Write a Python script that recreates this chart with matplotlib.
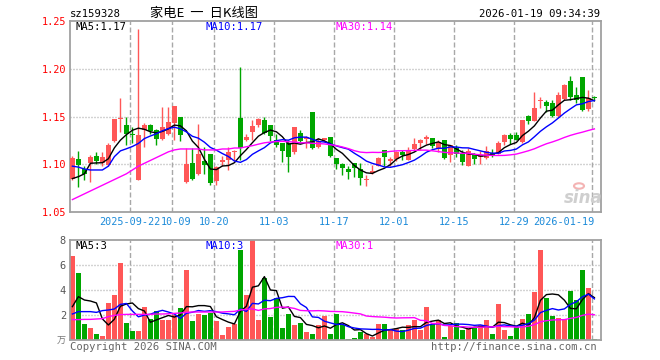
import matplotlib
matplotlib.use('Agg')
import matplotlib.pyplot as plt
import matplotlib.transforms as mtransforms
import numpy as np
import pandas as pd
from matplotlib.patches import Circle

# ---------------- data ----------------
dates = ['09-08','09-09','09-10','09-11','09-12','09-15','09-16','09-17','09-18','09-19',
         '09-22','09-23','09-24','09-25','09-26','09-29','09-30',
         '10-09','10-10','10-13','10-14','10-15','10-16','10-17','10-20','10-21','10-22',
         '10-23','10-24','10-27','10-28','10-29','10-30','10-31',
         '11-03','11-04','11-05','11-06','11-07','11-10','11-11','11-12','11-13','11-14',
         '11-17','11-18','11-19','11-20','11-21','11-24','11-25','11-26','11-27','11-28',
         '12-01','12-02','12-03','12-04','12-05','12-08','12-09','12-10','12-11','12-12',
         '12-15','12-16','12-17','12-18','12-19','12-22','12-23','12-24','12-25','12-26',
         '12-29','12-30','12-31',
         '01-05','01-06','01-07','01-08','01-09','01-12','01-13','01-14','01-15','01-16',
         '01-19']

opens = [1.085,1.105,1.095,1.101,1.109,1.101,1.099,1.124,1.147,1.141,
         1.132,1.084,1.136,1.141,1.136,1.126,1.132,1.143,1.149,1.081,
         1.101,1.090,1.103,1.111,1.082,1.102,1.104,1.113,1.148,1.125,
         1.134,1.141,1.146,1.141,1.125,1.122,1.122,1.113,1.133,1.126,
         1.155,1.118,1.125,1.129,1.107,1.100,1.095,1.101,1.095,1.083,
         1.091,1.098,1.115,1.103,1.105,1.113,1.104,1.116,1.122,1.126,
         1.128,1.116,1.125,1.110,1.117,1.111,1.098,1.111,1.108,1.107,
         1.112,1.111,1.123,1.131,1.131,1.123,1.151,1.145,1.166,1.165,
         1.164,1.151,1.168,1.187,1.172,1.191,1.158,1.170]
highs = [1.109,1.114,1.098,1.110,1.113,1.113,1.122,1.147,1.169,1.150,
         1.139,1.242,1.143,1.142,1.137,1.160,1.160,1.161,1.149,1.117,
         1.117,1.142,1.118,1.111,1.098,1.109,1.118,1.115,1.202,1.132,
         1.146,1.148,1.149,1.141,1.132,1.122,1.125,1.139,1.136,1.130,
         1.155,1.127,1.128,1.129,1.107,1.101,1.098,1.101,1.101,1.089,
         1.099,1.108,1.115,1.108,1.114,1.115,1.118,1.128,1.126,1.131,
         1.128,1.125,1.125,1.120,1.120,1.115,1.117,1.112,1.114,1.119,
         1.116,1.124,1.132,1.133,1.134,1.146,1.152,1.176,1.170,1.167,
         1.167,1.176,1.184,1.192,1.181,1.191,1.178,1.171]
lows = [1.084,1.076,1.084,1.081,1.100,1.098,1.098,1.123,1.134,1.120,
        1.122,1.084,1.118,1.132,1.120,1.125,1.131,1.125,1.124,1.080,
        1.084,1.089,1.090,1.078,1.078,1.098,1.094,1.103,1.104,1.124,
        1.125,1.139,1.132,1.124,1.118,1.102,1.092,1.111,1.122,1.117,
        1.116,1.117,1.123,1.108,1.095,1.089,1.085,1.087,1.078,1.077,
        1.090,1.098,1.098,1.098,1.103,1.104,1.104,1.114,1.115,1.121,
        1.117,1.113,1.106,1.102,1.108,1.099,1.098,1.100,1.100,1.106,
        1.108,1.111,1.120,1.121,1.125,1.122,1.142,1.145,1.159,1.155,
        1.150,1.150,1.167,1.167,1.164,1.156,1.156,1.167]
closes = [1.107,1.099,1.090,1.108,1.103,1.108,1.120,1.147,1.148,1.132,
          1.131,1.131,1.141,1.135,1.126,1.139,1.144,1.161,1.131,1.100,
          1.085,1.111,1.099,1.080,1.097,1.104,1.113,1.114,1.117,1.129,
          1.140,1.147,1.133,1.130,1.120,1.114,1.108,1.139,1.124,1.129,
          1.117,1.124,1.128,1.109,1.100,1.096,1.092,1.096,1.086,1.085,
          1.093,1.107,1.108,1.105,1.113,1.110,1.115,1.121,1.125,1.129,
          1.119,1.123,1.107,1.120,1.111,1.102,1.114,1.105,1.110,1.114,
          1.110,1.122,1.131,1.126,1.125,1.146,1.145,1.159,1.167,1.161,
          1.151,1.173,1.183,1.170,1.167,1.157,1.169,1.169]
volumes = [6.72,5.39,1.28,0.96,0.48,0.32,2.96,3.60,6.16,1.36,
           0.72,0.72,2.64,1.65,2.32,1.60,1.60,2.00,2.56,5.60,
           1.52,2.08,2.00,2.19,1.52,0.40,1.04,1.28,7.20,3.60,
           8.00,1.60,4.96,1.84,3.36,0.96,2.08,1.20,1.36,0.64,
           0.48,1.20,1.92,0.48,2.08,1.20,0.08,0.16,0.64,0.48,
           0.24,1.28,1.28,0.88,0.88,0.80,1.20,1.60,0.83,2.64,
           1.28,1.60,0.24,1.12,1.36,0.80,0.88,0.96,1.20,1.60,
           0.48,2.88,0.80,0.32,1.04,1.68,2.08,3.84,7.20,3.36,
           1.92,1.76,1.68,3.92,3.20,5.60,4.16,0.08]

# moving-average values before the window is full
ma5_head = [1.085, 1.087, 1.090, 1.101]
ma10_head = [1.098, 1.097, 1.095, 1.094, 1.094, 1.094, 1.098, 1.108, 1.114]
ma30_head = [1.063, 1.066, 1.069, 1.072, 1.075, 1.078, 1.081, 1.084, 1.087, 1.090,
             1.094, 1.098, 1.101, 1.104, 1.107, 1.110, 1.113, 1.115, 1.116, 1.116,
             1.116, 1.116, 1.115, 1.115, 1.115, 1.116, 1.116, 1.117, 1.117]
vma5_head = [2.67, 3.47, 3.20, 3.12]
vma10_head = [2.08, 2.27, 2.27, 2.27, 2.21, 2.35, 2.40, 2.48, 2.85]
vma30_head = [1.63, 1.63, 1.65, 1.65, 1.68, 1.71, 1.87, 1.97, 2.03, 2.05,
              2.05, 2.05, 2.05, 2.05, 2.08, 2.08, 2.10, 2.13, 2.16, 2.21,
              2.24, 2.24, 2.24, 2.24, 2.24, 2.24, 2.27, 2.29, 2.40]

tick_dates = ['09-22', '10-09', '10-20', '11-03', '11-17', '12-01', '12-15', '12-29', '01-19']
tick_labels = ['2025-09-22', '10-09', '10-20', '11-03', '11-17', '12-01', '12-15', '12-29', '2026-01-19']
price_ticks = [1.05, 1.10, 1.15, 1.20, 1.25]
vol_ticks = [2, 4, 6, 8]

code_label = 'sz159328'
title = '家电E  一  日K线图'
stamp = '2026-01-19 09:34:39'
ma_labels = ['MA5:1.17', 'MA10:1.17', 'MA30:1.14']
vma_labels = ['MA5:3', 'MA10:3', 'MA30:1']

# ---------------- helpers ----------------
def moving(values, n, head):
    s = pd.Series(values).rolling(n).mean().to_numpy()
    s[:len(head)] = head
    return s

W, H = 660, 360
MONO = 'DejaVu Sans Mono'
RED = '#ff5757'
GREEN = '#00a600'
GRID = '#a8a8a8'
BLUE_TXT = '#1b8ad9'

fig = plt.figure(figsize=(W / 100, H / 100), dpi=100)
fig.patch.set_facecolor('white')

def rect(l, t, r, b):
    return [l / W, 1 - b / H, (r - l) / W, (b - t) / H]

def ptext(x, y, s, **kw):
    kw.setdefault('va', 'center')
    fig.text(x / W, 1 - y / H, s, **kw)

ax = fig.add_axes(rect(70, 21, 601, 212))
axv = fig.add_axes(rect(70, 240, 601, 340))

n = len(closes)
x = np.arange(n)
o = np.array(opens); c = np.array(closes); h = np.array(highs); l = np.array(lows)
v = np.array(volumes)
up = c >= o
cols = np.where(up, RED, GREEN)

xlim = (-0.4, 88.1)
tick_idx = np.array([dates.index(d) for d in tick_dates]) - 0.35

for a in (ax, axv):
    a.set_xlim(*xlim)
    for sp in a.spines.values():
        sp.set_color('#a0a0a0')
        sp.set_linewidth(1.3)
    for t in tick_idx:
        a.axvline(t, color=GRID, lw=1.0, ls=(0, (3.6, 1.8)), zorder=0)

# --- price panel ---
ax.set_ylim(1.05, 1.25)
for yv in price_ticks[1:-1]:
    ax.axhline(yv, color=GRID, lw=1.0, ls=(0, (0.72, 1.44)), zorder=0)

ax.vlines(x, l, h, colors=cols, lw=1.0, zorder=2)
body_lo = np.minimum(o, c)
body_h = np.maximum(np.abs(c - o), 0.0005)
ax.bar(x, body_h, bottom=body_lo, width=0.82, color=cols, linewidth=0, zorder=3)

ma5 = moving(closes, 5, ma5_head)
ma10 = moving(closes, 10, ma10_head)
ma30 = moving(closes, 30, ma30_head)
ax.plot(x, ma5, color='black', lw=1.0, zorder=4)
ax.plot(x, ma10, color='#0000ff', lw=1.0, zorder=4)
ax.plot(x, ma30, color='#ff00ff', lw=1.0, zorder=4)

ax.set_yticks(price_ticks)
ax.set_yticklabels(['%.2f' % t for t in price_ticks], fontfamily=MONO, fontsize=7.4, color='#ff0000')
ax.tick_params(axis='y', length=0, pad=3)
ax.set_xticks([])

# date labels below the price panel (x in data units, y in axes units)
blend = mtransforms.blended_transform_factory(ax.transData, ax.transAxes)
label_y = -10 / 191
shifts = [0.0, 0.7, 0.0, 0.0, 0.0, 0.0, 0.0, 0.0, 0.4]
for k, (t, lab) in enumerate(zip(tick_idx, tick_labels)):
    ha = 'right' if k == len(tick_labels) - 1 else 'center'
    ax.text(t + shifts[k], label_y, lab, transform=blend, ha=ha, va='center',
            fontfamily=MONO, fontsize=7.3, color=BLUE_TXT, clip_on=False)

# --- volume panel ---
axv.set_ylim(0, 8)
for yv in vol_ticks[:-1]:
    axv.axhline(yv, color=GRID, lw=1.0, ls=(0, (0.72, 1.44)), zorder=0)
axv.bar(x, v, width=0.82, color=cols, linewidth=0, zorder=2)
vma5 = moving(volumes, 5, vma5_head)
vma10 = moving(volumes, 10, vma10_head)
vma30 = moving(volumes, 30, vma30_head)
axv.plot(x, vma5, color='black', lw=1.0, zorder=4)
axv.plot(x, vma10, color='#0000ff', lw=1.0, zorder=4)
axv.plot(x, vma30, color='#ff00ff', lw=1.0, zorder=4)
axv.set_yticks(vol_ticks)
axv.set_yticklabels([str(t) for t in vol_ticks], fontfamily=MONO, fontsize=7.4, color='#555555')
axv.tick_params(axis='y', length=0, pad=3)
axv.set_xticks([])

# --- texts ---
ptext(70, 14, code_label, ha='left', fontfamily=MONO, fontsize=7.6, color='black')
ptext(204, 13, title, ha='center', family=['Noto Sans CJK SC', 'DejaVu Sans'], fontsize=9.5, color='black')
ptext(600, 14, stamp, ha='right', fontfamily=MONO, fontsize=7.6, color='black')

ptext(75, 27, ma_labels[0], ha='left', fontfamily=MONO, fontsize=7.6, color='black')
ptext(206, 27, ma_labels[1], ha='left', fontfamily=MONO, fontsize=7.6, color='#0000ff')
ptext(336, 27, ma_labels[2], ha='left', fontfamily=MONO, fontsize=7.6, color='#ff00ff')
ptext(75, 246, vma_labels[0], ha='left', fontfamily=MONO, fontsize=7.6, color='black')
ptext(206, 246, vma_labels[1], ha='left', fontfamily=MONO, fontsize=7.6, color='#0000ff')
ptext(335, 246, vma_labels[2], ha='left', fontfamily=MONO, fontsize=7.6, color='#ff00ff')

ptext(66, 341, '万', ha='right', family=['Noto Sans CJK SC', 'DejaVu Sans'], fontsize=6.5, color='#777777')
ptext(70, 347, 'Copyright 2026 SINA.COM', ha='left', fontfamily=MONO, fontsize=7.6, color='#666666')
ptext(597, 347, 'http://finance.sina.com.cn', ha='right', fontfamily=MONO, fontsize=7.6, color='#666666')

# sina watermark
ptext(583, 198, 'sina', ha='center', fontfamily='DejaVu Sans', fontsize=12, fontweight='bold',
      style='italic', color='#cfcfcf')
fig.patches.append(Circle((579 / W, 1 - 186 / H), 5 / W, transform=fig.transFigure,
                          facecolor='none', edgecolor='#f4b4b4', lw=1.5))

fig.savefig('out.png', dpi=100, facecolor='white')
